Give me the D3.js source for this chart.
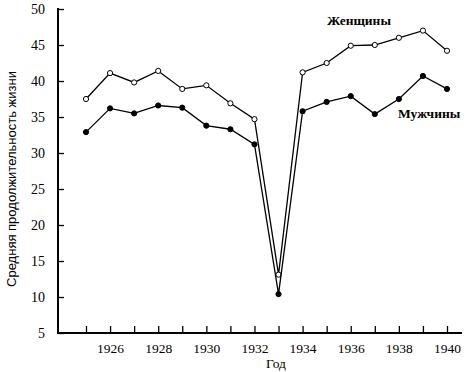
<!DOCTYPE html>
<html>
<head>
<meta charset="utf-8">
<script src="https://cdn.jsdelivr.net/npm/d3@7"></script>
<style>
  body { margin: 0; background: #fff; }
  svg text { font-family: "Liberation Serif", "Times New Roman", serif; fill: #000; }
</style>
</head>
<body>
<script>
// data
var years = [1925, 1926, 1927, 1928, 1929, 1930, 1931, 1932, 1933, 1934, 1935, 1936, 1937, 1938, 1939, 1940];
var women = [37.5, 41.1, 39.8, 41.4, 38.9, 39.4, 36.9, 34.7, 13.1, 41.2, 42.5, 44.9, 45.0, 46.0, 47.0, 44.2];
var men   = [32.9, 36.2, 35.5, 36.6, 36.3, 33.8, 33.3, 31.2, 10.4, 35.8, 37.1, 37.9, 35.4, 37.5, 40.7, 38.9];
var yTicks = [5, 10, 15, 20, 25, 30, 35, 40, 45, 50];

var width = 475, height = 372;
var x0 = 58, y0 = 333;

var x = d3.scaleLinear().domain([1925, 1940]).range([86, 447]),
    y = d3.scaleLinear().domain([5, 50]).range([y0, 9]);

var svg = d3.select("body").append("svg")
    .attr("width", width)
    .attr("height", height);

// x axis: a tick every year, labels on even years
var xAxis = svg.append("g")
    .attr("transform", "translate(0," + y0 + ")")
    .call(d3.axisBottom(x)
      .tickValues(years)
      .tickSizeInner(-7).tickSizeOuter(0).tickPadding(10)
      .tickFormat(function(d) { return d % 2 === 0 ? d : ""; }));
xAxis.select(".domain").remove();
xAxis.selectAll("line").attr("stroke", "#000").attr("stroke-width", 1.3);
xAxis.selectAll("text").style("font-size", "13.5px");

var yAxis = svg.append("g")
    .attr("transform", "translate(" + x0 + ",0)")
    .call(d3.axisLeft(y)
      .tickValues(yTicks)
      .tickSizeInner(-6).tickSizeOuter(0).tickPadding(13));
yAxis.select(".domain").remove();
yAxis.selectAll("line").attr("stroke", "#000").attr("stroke-width", 1.3);
yAxis.selectAll("text").style("font-size", "14px");

// axis lines
svg.append("line").attr("x1", x0).attr("x2", 462).attr("y1", y0).attr("y2", y0)
    .attr("stroke", "#000").attr("stroke-width", 2);
svg.append("line").attr("x1", x0).attr("x2", x0).attr("y1", y(50) - 1).attr("y2", y0 + 1)
    .attr("stroke", "#000").attr("stroke-width", 2);

var line = d3.line()
    .x(function(d) { return x(d.year); })
    .y(function(d) { return y(d.value); });

var series = [
  {id: "women", fill: "#fff", values: years.map(function(yr, i) { return {year: yr, value: women[i]}; })},
  {id: "men", fill: "#000", values: years.map(function(yr, i) { return {year: yr, value: men[i]}; })}
];

var s = svg.selectAll(".series")
  .data(series)
  .enter().append("g")
    .attr("class", "series");

s.append("path")
    .attr("d", function(d) { return line(d.values); })
    .attr("fill", "none")
    .attr("stroke", "#000")
    .attr("stroke-width", 1.3);

s.selectAll("circle")
  .data(function(d) { return d.values.map(function(v) { return {year: v.year, value: v.value, fill: d.fill}; }); })
  .enter().append("circle")
    .attr("cx", function(d) { return x(d.year); })
    .attr("cy", function(d) { return y(d.value); })
    .attr("r", 2.6)
    .attr("fill", function(d) { return d.fill; })
    .attr("stroke", "#000")
    .attr("stroke-width", 1);

// series labels
svg.append("text")
    .attr("x", 327).attr("y", 25)
    .style("font-size", "13.5px")
    .style("font-weight", "bold")
    .text("Женщины");
svg.append("text")
    .attr("x", 398).attr("y", 118)
    .style("font-size", "13.5px")
    .style("font-weight", "bold")
    .text("Мужчины");

// axis titles
svg.append("text")
    .attr("x", 276).attr("y", 368)
    .attr("text-anchor", "middle")
    .style("font-size", "13.5px")
    .text("Год");
svg.append("text")
    .attr("transform", "translate(16," + 179 + ") rotate(-90)")
    .attr("text-anchor", "middle")
    .style("font-family", "'Liberation Sans', Arial, sans-serif")
    .style("font-size", "13px")
    .text("Средняя продолжительность жизни");
</script>
</body>
</html>
